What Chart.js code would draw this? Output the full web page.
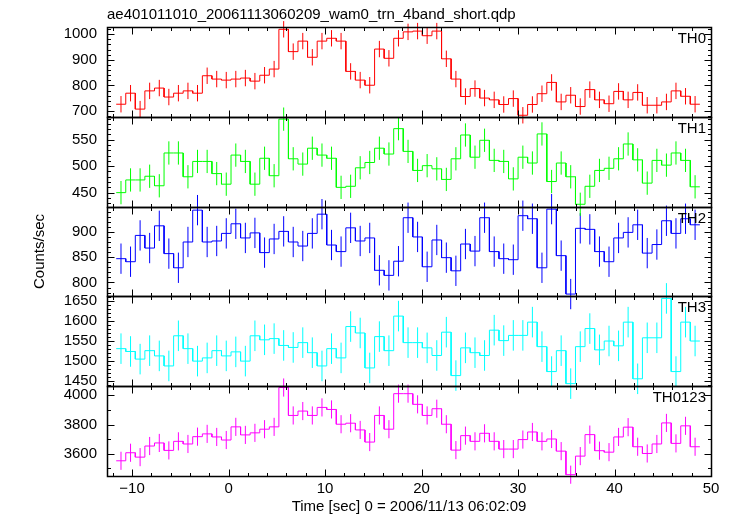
<!DOCTYPE html>
<html>
<head>
<meta charset="utf-8">
<script src="https://cdn.jsdelivr.net/npm/chart.js@4.4.1/dist/chart.umd.min.js"></script>
<style>
html, body { margin: 0; padding: 0; background: #fff; }
#wrap { width: 730px; height: 516px; }
</style>
</head>
<body>
<div id="wrap"><canvas id="lc" width="730" height="516"></canvas></div>
<script>
// bin centres (sec from 2006/11/13 06:02:09)
var time = [-11.15, -10.16, -9.17, -8.18, -7.18, -6.19, -5.20, -4.21, -3.22, -2.22,
    -1.23, -0.24, 0.75, 1.74, 2.73, 3.73, 4.72, 5.71, 6.70, 7.69,
    8.68, 9.68, 10.67, 11.66, 12.65, 13.64, 14.63, 15.63, 16.62, 17.61,
    18.60, 19.59, 20.58, 21.58, 22.57, 23.56, 24.55, 25.54, 26.53, 27.53,
    28.52, 29.51, 30.50, 31.49, 32.48, 33.48, 34.47, 35.46, 36.45, 37.44,
    38.44, 39.43, 40.42, 41.41, 42.40, 43.39, 44.39, 45.38, 46.37, 47.36, 48.35];
var halfBin = 0.496;

var th0 = [727, 770, 708, 779, 790, 755, 770, 779, 770, 838,
    825, 821, 825, 829, 817, 840, 864, 1019, 932, 973,
    910, 973, 984, 973, 855, 821, 801, 942, 906, 984,
    1009, 1012, 994, 1012, 904, 825, 757, 788, 751, 744,
    726, 749, 684, 726, 768, 812, 736, 762, 718, 784,
    744, 729, 777, 744, 773, 723, 723, 736, 779, 758, 727];
var th1 = [450, 474, 474, 481, 463, 525, 525, 480, 509, 509,
    486, 466, 521, 509, 466, 515, 482, 589, 514, 504,
    534, 521, 515, 460, 462, 497, 507, 534, 523, 571,
    528, 492, 501, 495, 475, 514, 559, 517, 549, 511,
    509, 476, 517, 506, 561, 471, 506, 480, 428, 462,
    492, 496, 514, 542, 512, 468, 511, 502, 525, 511, 461];
var th2 = [847, 841, 893, 868, 912, 857, 829, 880, 943, 880,
    882, 897, 916, 888, 898, 859, 886, 901, 880, 872,
    897, 935, 874, 861, 908, 882, 888, 824, 814, 842,
    928, 890, 831, 884, 849, 823, 876, 862, 928, 861,
    847, 845, 932, 926, 829, 945, 853, 777, 907, 905,
    861, 841, 888, 899, 914, 858, 875, 922, 897, 926, 914];
var th3 = [1531, 1524, 1505, 1526, 1513, 1488, 1563, 1531, 1500, 1508,
    1526, 1513, 1523, 1500, 1563, 1553, 1556, 1539, 1534, 1546,
    1521, 1488, 1531, 1508, 1586, 1570, 1483, 1561, 1526, 1612,
    1546, 1546, 1533, 1514, 1572, 1464, 1533, 1521, 1514, 1577,
    1551, 1564, 1564, 1597, 1536, 1474, 1526, 1444, 1536, 1581,
    1528, 1550, 1538, 1597, 1456, 1558, 1558, 1656, 1474, 1597, 1550];
var th0123 = [3552, 3607, 3577, 3653, 3674, 3623, 3685, 3667, 3717, 3736,
    3715, 3694, 3784, 3729, 3743, 3768, 3784, 4053, 3862, 3892,
    3862, 3917, 3903, 3802, 3809, 3763, 3680, 3862, 3768, 4011,
    4011, 3938, 3862, 3908, 3802, 3625, 3724, 3685, 3740, 3685,
    3632, 3632, 3697, 3749, 3685, 3701, 3618, 3457, 3584, 3731,
    3621, 3611, 3715, 3782, 3648, 3602, 3667, 3811, 3671, 3791, 3648];

// typical 1-sigma error of each band
var errs = [32, 22, 30, 38, 62];

var panelNames = ['TH0', 'TH1', 'TH2', 'TH3', 'TH0123'];
var panelColors = ['#ff0000', '#00ff00', '#0000ff', '#00ffff', '#ff00ff'];
var series = [th0, th1, th2, th3, th0123];
var yMins = [678, 423.6, 772.4, 1437.6, 3448];
var yMaxs = [1028, 593.4, 950, 1661, 4062];
var yTicks = [[700, 800, 900, 1000], [450, 500, 550], [800, 850, 900],
    [1450, 1500, 1550, 1600, 1650], [3600, 3800, 4000]];
var yMajor = [100, 50, 50, 50, 200];
var yMinor = [20, 10, 10, 10, 100];
var xTicks = [-10, 0, 10, 20, 30, 40, 50];
var xMin = -12.6, xMax = 50;
var title = 'ae401011010_20061113060209_wam0_trn_4band_short.qdp';
var FONT = 'Liberation Sans, Arial, sans-serif';

function stepPoints(vals) {
    var pts = [];
    vals.forEach(function(v, i) {
        pts.push({x: time[i] - halfBin, y: v});
        pts.push({x: time[i] + halfBin, y: v});
    });
    return pts;
}

function errPoints(vals, e) {
    var pts = [];
    vals.forEach(function(v, i) {
        pts.push({x: time[i], y: v - e});
        pts.push({x: time[i], y: v + e});
        pts.push({x: time[i], y: null});
    });
    return pts;
}

var datasets = [];
var scales = {
    x: {
        type: 'linear',
        position: 'bottom',
        min: xMin,
        max: xMax,
        grid: {display: false, drawTicks: false},
        border: {display: false},
        afterBuildTicks: function(s) { s.ticks = xTicks.map(function(v) { return {value: v}; }); },
        afterFit: function(s) { s.height = 40; },
        ticks: {
            autoSkip: false, maxRotation: 0, padding: 4, color: '#000',
            font: {family: FONT, size: 15},
            callback: function(v) { return v < 0 ? '\u2212' + Math.abs(v) : String(v); }
        },
        title: {
            display: true, text: 'Time [sec] 0 = 2006/11/13 06:02:09', color: '#000',
            font: {family: FONT, size: 15}, padding: {top: 0, bottom: 0}
        }
    }
};

series.forEach(function(vals, i) {
    datasets.push({
        data: stepPoints(vals), yAxisID: 'y' + i,
        borderColor: panelColors[i], borderWidth: 1, pointRadius: 0, clip: false
    });
    datasets.push({
        data: errPoints(vals, errs[i]), yAxisID: 'y' + i,
        borderColor: panelColors[i], borderWidth: 1, pointRadius: 0, clip: false, spanGaps: false
    });
    scales['y' + i] = {
        type: 'linear',
        position: 'left',
        stack: 'panels',
        stackWeight: 1,
        weight: 5 - i,
        min: yMins[i],
        max: yMaxs[i],
        grid: {display: false, drawTicks: false},
        border: {display: false},
        afterBuildTicks: function(s) { s.ticks = yTicks[i].map(function(v) { return {value: v}; }); },
        afterFit: function(s) { s.width = 107; },
        ticks: {
            autoSkip: false, padding: 10, color: '#000',
            font: {family: FONT, size: 15},
            callback: function(v) { return String(v); }
        },
        title: {
            display: i === 2, text: 'Counts/sec', color: '#000',
            font: {family: FONT, size: 15}, padding: {top: 31, bottom: 0}
        }
    };
});

// frames, inward ticks, band names and the file title
var panelFrame = {
    id: 'panelFrame',
    afterDatasetsDraw: function(chart) {
        var ctx = chart.ctx, area = chart.chartArea, xs = chart.scales.x;
        ctx.save();
        ctx.strokeStyle = '#000';
        panelNames.forEach(function(name, i) {
            var ys = chart.scales['y' + i];
            var top = Math.round(ys.top) + 0.5, bot = Math.round(ys.bottom) + 0.5;
            var left = Math.round(area.left) + 0.5, right = Math.round(area.right) + 0.5;
            ctx.lineWidth = 1.5;
            ctx.beginPath();
            ctx.rect(left, top, right - left, bot - top);
            ctx.stroke();
            ctx.lineWidth = 1;
            ctx.beginPath();
            for (var t = -12; t <= 50; t += 2) {
                var px = Math.round(xs.getPixelForValue(t)) + 0.5;
                if (px < area.left || px > area.right + 1) continue;
                var len = (t % 10 === 0) ? 7 : 3.5;
                ctx.moveTo(px, top); ctx.lineTo(px, top + len);
                ctx.moveTo(px, bot); ctx.lineTo(px, bot - len);
            }
            var v0 = Math.ceil(yMins[i] / yMinor[i]) * yMinor[i];
            for (var v = v0; v <= yMaxs[i]; v += yMinor[i]) {
                var py = Math.round(ys.getPixelForValue(v)) + 0.5;
                var l2 = (v % yMajor[i] === 0) ? 7 : 3.5;
                ctx.moveTo(left, py); ctx.lineTo(left + l2, py);
                ctx.moveTo(right, py); ctx.lineTo(right - l2, py);
            }
            ctx.stroke();
            ctx.fillStyle = '#000';
            ctx.font = '15px ' + FONT;
            ctx.textAlign = 'right';
            ctx.textBaseline = 'alphabetic';
            ctx.fillText(name, area.right - 5, ys.top + 16);
        });
        ctx.textAlign = 'left';
        ctx.fillText(title, area.left, 19);
        ctx.restore();
    }
};

var chart = new Chart(document.getElementById('lc').getContext('2d'), {
    type: 'line',
    data: {datasets: datasets},
    options: {
        responsive: false,
        animation: false,
        devicePixelRatio: 1,
        layout: {padding: {top: 27, right: 19, bottom: 0, left: 0}},
        plugins: {legend: {display: false}, tooltip: {enabled: false}},
        elements: {line: {tension: 0}},
        scales: scales
    },
    plugins: [panelFrame]
});
</script>
</body>
</html>
